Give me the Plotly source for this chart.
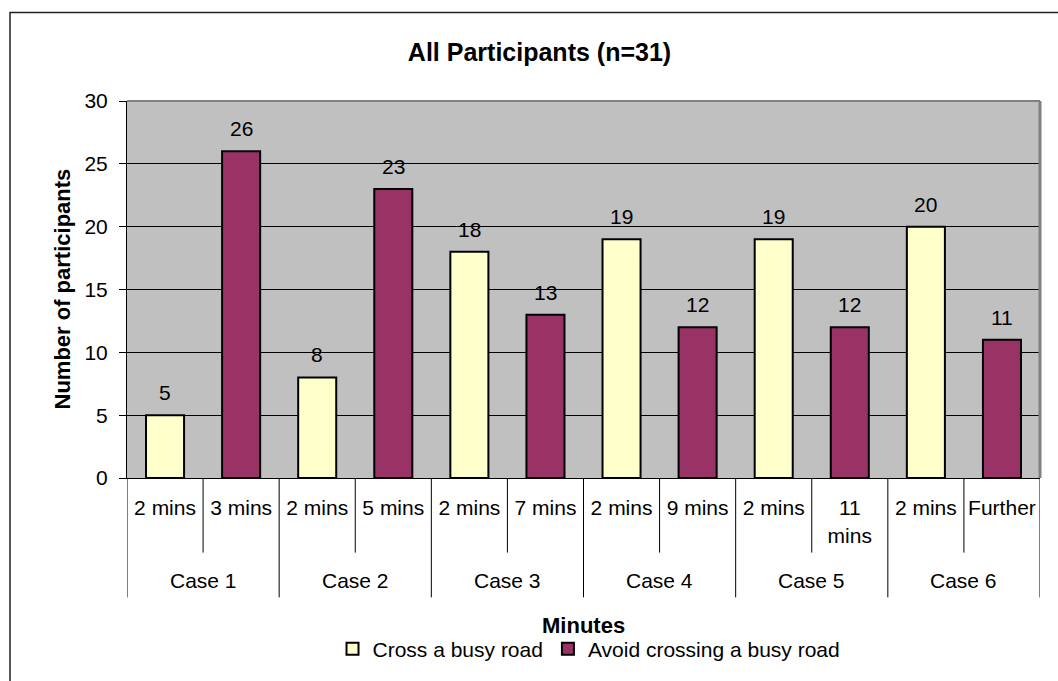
import plotly.graph_objects as go

# Survey results: how many participants chose each option per case
cases = ["Case 1", "Case 2", "Case 3", "Case 4", "Case 5", "Case 6"]
cross_labels = ["2 mins", "2 mins", "2 mins", "2 mins", "2 mins", "2 mins"]
avoid_labels = ["3 mins", "5 mins", "7 mins", "9 mins", "11 mins", "Further"]
cross_values = [5, 8, 18, 19, 19, 20]
avoid_values = [26, 23, 13, 12, 12, 11]
y_ticks = [0, 5, 10, 15, 20, 25, 30]

CROSS_COLOR = "#FFFFCC"
AVOID_COLOR = "#993366"
FONT = "Arial, 'Liberation Sans', sans-serif"

W, H = 1058, 681
L, R, T, B = 127, 18, 101, 201
PW, PH = W - L - R, H - T - B


def px_x(px):
    return (px - L) / PW


def px_y(py):
    return (H - B - py) / PH


def wrap(label):
    return label.replace(" ", "<br>") if (" " in label and len(label) > 6) else label


n = len(cases)
cross_x = [2 * i for i in range(n)]
avoid_x = [2 * i + 1 for i in range(n)]
tick_vals, tick_text = [], []
for i in range(n):
    tick_vals += [cross_x[i], avoid_x[i]]
    tick_text += [wrap(cross_labels[i]), wrap(avoid_labels[i])]

fig = go.Figure()
fig.add_trace(go.Bar(
    x=cross_x, y=cross_values, name="Cross a busy road", width=0.5,
    marker=dict(color=CROSS_COLOR, line=dict(color="black", width=2)),
))
fig.add_trace(go.Bar(
    x=avoid_x, y=avoid_values, name="Avoid crossing a busy road", width=0.5,
    marker=dict(color=AVOID_COLOR, line=dict(color="black", width=2)),
))

annotations = []
# value labels above the bars
for xs, vs in ((cross_x, cross_values), (avoid_x, avoid_values)):
    for xv, v in zip(xs, vs):
        annotations.append(dict(
            x=xv, y=v, xref="x", yref="y", text=str(v), showarrow=False,
            yanchor="bottom", yshift=9, font=dict(size=21, color="black"),
        ))
# outer category (case) labels
for i, c in enumerate(cases):
    annotations.append(dict(
        x=2 * i + 0.5, y=px_y(583), xref="x", yref="paper", text=c,
        showarrow=False, yanchor="middle", font=dict(size=21, color="black"),
    ))
# axis titles
annotations.append(dict(
    x=0.5, y=px_y(628), xref="paper", yref="paper", text="<b>Minutes</b>",
    showarrow=False, yanchor="middle", font=dict(size=22, color="black"),
))
annotations.append(dict(
    x=px_x(62), y=0.5, xref="paper", yref="paper",
    text="<b>Number of participants</b>", textangle=-90,
    showarrow=False, xanchor="center", yanchor="middle",
    font=dict(size=22, color="black"),
))

shapes = []
# dividers below the category axis
for k in range(2 * n + 1):
    xb = k - 0.5
    outer = (k % 2 == 0)
    shapes.append(dict(
        type="line", xref="x", yref="paper", x0=xb, x1=xb,
        y0=0, y1=px_y(600) if outer else px_y(555),
        line=dict(color="black", width=1),
    ))
# plot area edge on top and right
shapes.append(dict(type="line", xref="paper", yref="paper", x0=0, x1=1,
                   y0=1, y1=1, line=dict(color="#808080", width=2)))
shapes.append(dict(type="line", xref="paper", yref="paper", x0=1, x1=1,
                   y0=0, y1=1, line=dict(color="#808080", width=3)))
# chart frame
shapes.append(dict(type="rect", xref="paper", yref="paper",
                   x0=px_x(10), x1=px_x(1080), y0=px_y(700), y1=px_y(12),
                   line=dict(color="#222222", width=1.5), fillcolor="rgba(0,0,0,0)"))

fig.update_layout(
    width=W, height=H,
    margin=dict(l=L, r=R, t=T, b=B),
    paper_bgcolor="white", plot_bgcolor="#C0C0C0",
    font=dict(family=FONT, color="black", size=21),
    barmode="overlay",
    title=dict(
        text="All Participants (n=31)", x=539.5 / W, xref="container",
        xanchor="center", y=1 - 52 / H, yref="container", yanchor="middle",
        font=dict(size=25, weight="bold", color="black"),
    ),
    xaxis=dict(
        range=[-0.5, 2 * n - 0.5], tickvals=tick_vals, ticktext=tick_text,
        ticks="", showgrid=False, zeroline=False,
        showline=True, linecolor="black", linewidth=1,
        ticklabelstandoff=11, tickfont=dict(size=21),
    ),
    yaxis=dict(
        range=[0, 30], tickvals=y_ticks, ticks="outside", ticklen=7,
        tickcolor="black", showgrid=True, gridcolor="black", gridwidth=1,
        zeroline=False, showline=True, linecolor="black", linewidth=1,
        ticklabelstandoff=7, tickfont=dict(size=21),
    ),
    legend=dict(
        orientation="h", x=px_x(589), xanchor="center", y=px_y(652),
        yanchor="middle", font=dict(size=21), bgcolor="rgba(0,0,0,0)",
        itemwidth=30,
    ),
    annotations=annotations, shapes=shapes,
)

fig.write_html("out.html")
